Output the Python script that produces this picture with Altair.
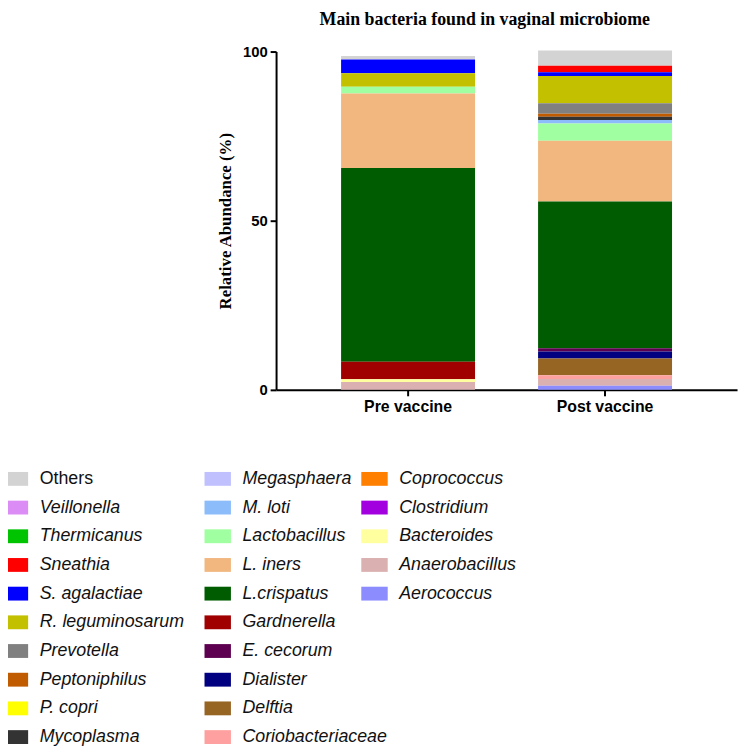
import altair as alt
import pandas as pd

names = ["Others", "Veillonella", "Thermicanus", "Sneathia", "S. agalactiae",
         "R. leguminosarum", "Prevotella", "Peptoniphilus", "P. copri", "Mycoplasma",
         "Megasphaera", "M. loti", "Lactobacillus", "L. iners", "L.crispatus",
         "Gardnerella", "E. cecorum", "Dialister", "Delftia", "Coriobacteriaceae",
         "Coprococcus", "Clostridium", "Bacteroides", "Anaerobacillus", "Aerococcus"]
colors = ["#d3d3d3", "#dc8cf5", "#00c400", "#ff0000", "#0000ff",
          "#c3c000", "#808080", "#c15b00", "#ffff00", "#333333",
          "#c0c0ff", "#8cbcfa", "#a0ffa0", "#f1b77f", "#005c00",
          "#a00000", "#5e0050", "#000080", "#966423", "#ffa0a0",
          "#ff8000", "#a300e0", "#ffffa0", "#dab0b0", "#8c8cff"]
groups = ["Pre vaccine", "Post vaccine"]
pre = [1.0, 0, 0, 0, 4.1, 3.95, 0, 0, 0, 0, 0, 0, 2.0, 22.0, 57.3,
       5.2, 0, 0, 0, 0, 0, 0, 0.8, 2.3, 0]
post = [4.5, 0, 0, 1.95, 1.1, 8.0, 3.1, 0.9, 0, 0.95, 0, 1.1, 5.1, 17.9, 43.4,
        0, 0.95, 2.05, 5.0, 1.1, 0, 0, 0, 1.95, 1.25]

rows = []
for g, vals in zip(groups, [pre, post]):
    for i, (n, v) in enumerate(zip(names, vals)):
        rows.append({"group": g, "name": n, "idx": i, "value": v})
bar_df = pd.DataFrame(rows)

leg_df = pd.DataFrame({"name": names,
                       "col": [i // 10 for i in range(len(names))],
                       "row": [i % 10 for i in range(len(names))]})

color_scale = alt.Scale(domain=names, range=colors)

bars = alt.Chart(bar_df).mark_bar().encode(
    x=alt.X("group:N", sort=groups,
            scale=alt.Scale(paddingInner=0.32, paddingOuter=0.33),
            axis=alt.Axis(title=None, labelAngle=0, labelFont="Liberation Sans",
                          labelFontWeight="bold", labelFontSize=16, labelColor="black",
                          domainColor="black", domainWidth=2, tickColor="black",
                          tickWidth=2, tickSize=6, labelPadding=3)),
    y=alt.Y("value:Q", stack="zero",
            scale=alt.Scale(domain=[0, 100], nice=False),
            axis=alt.Axis(values=[0, 50, 100], title="Relative Abundance (%)",
                          titleFont="Liberation Serif", titleFontWeight="bold",
                          titleFontSize=17, titleColor="black", titlePadding=8,
                          labelFont="Liberation Sans", labelFontWeight="bold",
                          labelFontSize=15, labelColor="black", labelPadding=3,
                          domainColor="black", domainWidth=2, tickColor="black",
                          tickWidth=2, tickSize=6, grid=False)),
    color=alt.Color("name:N", scale=color_scale, legend=None),
    order=alt.Order("idx:Q", sort="descending"),
)

lx = alt.X("col:Q", scale=alt.Scale(domain=[0, 1, 2], range=[-264, -59, 99.5],
                                    nice=False, zero=False), axis=None)
ly = alt.Y("row:Q", scale=alt.Scale(domain=[0, 9], range=[432, 693],
                                    nice=False, zero=False), axis=None)

swatches = alt.Chart(leg_df).mark_point(
    shape="M-1,-0.524H1V0.524H-1Z", size=713, filled=True, opacity=1, strokeWidth=0
).encode(x=lx, y=ly, color=alt.Color("name:N", scale=color_scale, legend=None))

txt_normal = alt.Chart(leg_df).transform_filter(alt.datum.name == "Others").mark_text(
    align="left", baseline="middle", dx=25, font="Liberation Sans", fontSize=18,
    color="#111111"
).encode(x=lx, y=ly, text="name:N")

txt_italic = alt.Chart(leg_df).transform_filter(alt.datum.name != "Others").mark_text(
    align="left", baseline="middle", dx=25, font="Liberation Sans", fontSize=18,
    fontStyle="italic", color="#111111"
).encode(x=lx, y=ly, text="name:N")

legend = alt.layer(swatches, txt_normal, txt_italic)

chart = alt.layer(bars, legend).resolve_scale(
    x="independent", y="independent"
).properties(
    width=466, height=342,
    title=alt.TitleParams("Main bacteria found in vaginal microbiome",
                          font="Liberation Serif", fontSize=18, fontWeight="bold",
                          color="black", anchor="middle", frame="group", dx=-22,
                          offset=16),
    autosize=alt.AutoSizeParams(type="none"),
    padding={"left": 271, "top": 40, "right": 4, "bottom": 356},
).configure_view(stroke=None)

chart.save("out.html", embed_options={"renderer": "svg", "actions": False})
